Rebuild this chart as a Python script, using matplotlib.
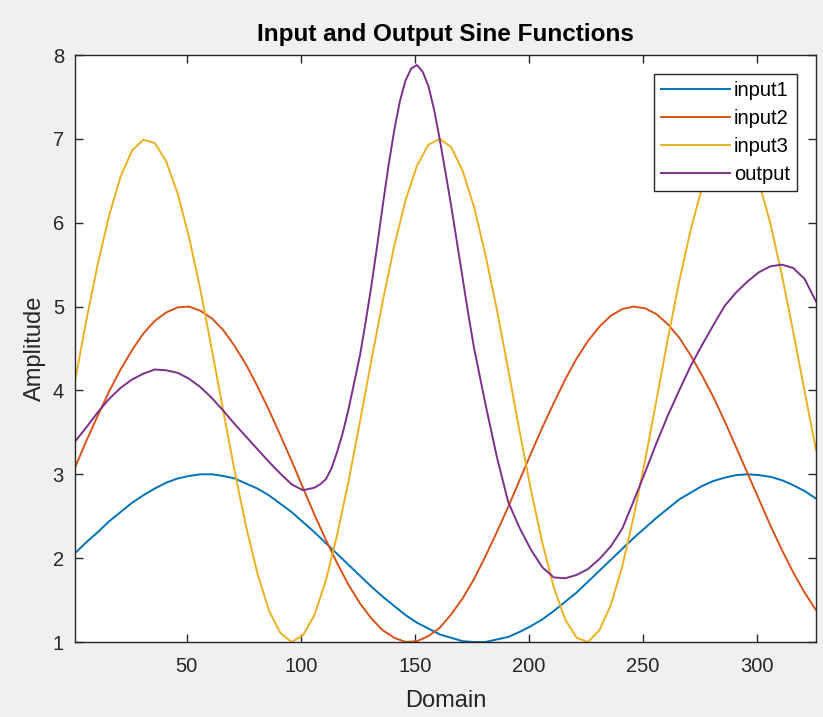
import matplotlib
matplotlib.use("Agg")
import matplotlib.pyplot as plt

# sample points, every 5 units of the domain
domain = list(range(1, 327, 5))

input1 = [2.06, 2.19, 2.31, 2.44, 2.55, 2.66, 2.75, 2.83, 2.90, 2.95,
          2.98, 3.00, 3.00, 2.98, 2.95, 2.89, 2.83, 2.75, 2.65, 2.55,
          2.43, 2.31, 2.18, 2.05, 1.92, 1.79, 1.66, 1.54, 1.43, 1.32,
          1.23, 1.16, 1.09, 1.05, 1.01, 1.00, 1.00, 1.03, 1.06, 1.12,
          1.19, 1.27, 1.37, 1.48, 1.59, 1.72, 1.85, 1.98, 2.11, 2.24,
          2.36, 2.48, 2.59, 2.70, 2.78, 2.86, 2.92, 2.96, 2.99, 3.00,
          2.99, 2.97, 2.93, 2.87, 2.80, 2.71]

input2 = [3.08, 3.40, 3.70, 3.99, 4.25, 4.48, 4.68, 4.83, 4.93, 4.99,
          5.00, 4.95, 4.86, 4.72, 4.53, 4.31, 4.05, 3.77, 3.47, 3.16,
          2.84, 2.52, 2.22, 1.94, 1.68, 1.46, 1.28, 1.14, 1.05, 1.00,
          1.01, 1.07, 1.17, 1.33, 1.52, 1.75, 2.02, 2.31, 2.61, 2.93,
          3.25, 3.56, 3.85, 4.13, 4.38, 4.59, 4.76, 4.89, 4.97, 5.00,
          4.98, 4.91, 4.79, 4.63, 4.42, 4.18, 3.92, 3.63, 3.32, 3.01,
          2.70, 2.39, 2.10, 1.83, 1.59, 1.38]

input3 = [4.11, 4.84, 5.51, 6.09, 6.55, 6.86, 6.99, 6.95, 6.73, 6.35,
          5.83, 5.20, 4.49, 3.76, 3.04, 2.38, 1.82, 1.38, 1.11, 1.00,
          1.08, 1.32, 1.73, 2.28, 2.92, 3.63, 4.36, 5.07, 5.72, 6.27,
          6.68, 6.93, 7.00, 6.90, 6.62, 6.19, 5.62, 4.97, 4.25, 3.51,
          2.81, 2.18, 1.65, 1.27, 1.05, 1.00, 1.14, 1.44, 1.90, 2.49,
          3.16, 3.88, 4.61, 5.30, 5.91, 6.42, 6.78, 6.97, 6.99, 6.82,
          6.48, 5.99, 5.38, 4.70, 3.99, 3.29]

# output is read a bit more finely where it turns sharply
out_domain = [1, 6, 11, 16, 21, 26, 31, 36, 41, 46,
              51, 56, 61, 66, 71, 76, 81, 86, 91, 96,
              101, 106, 108.5, 111, 113.5, 116, 118.5, 121, 126, 128.5,
              131, 133.5, 136, 138.5, 141, 143.5, 146, 148.5, 151, 153.5,
              156, 158.5, 161, 163.5, 166, 168.5, 171, 173.5, 176, 181,
              186, 191, 196, 201, 206, 211, 216, 221, 226, 231,
              236, 241, 246, 251, 256, 261, 266, 271, 276, 281,
              286, 291, 296, 301, 306, 311, 316, 321, 326]

output = [3.39, 3.56, 3.74, 3.90, 4.03, 4.13, 4.20, 4.25, 4.24, 4.21,
          4.14, 4.04, 3.91, 3.76, 3.60, 3.45, 3.30, 3.15, 3.01, 2.88,
          2.81, 2.84, 2.88, 2.94, 3.07, 3.27, 3.50, 3.78, 4.42, 4.82,
          5.25, 5.72, 6.21, 6.68, 7.10, 7.45, 7.70, 7.84, 7.88, 7.80,
          7.63, 7.35, 6.99, 6.60, 6.20, 5.77, 5.34, 4.91, 4.51, 3.84,
          3.21, 2.67, 2.36, 2.10, 1.89, 1.77, 1.76, 1.80, 1.87, 1.99,
          2.14, 2.35, 2.68, 3.02, 3.37, 3.70, 4.00, 4.29, 4.54, 4.78,
          5.01, 5.17, 5.30, 5.41, 5.48, 5.50, 5.46, 5.33, 5.06]

names = ["input1", "input2", "input3", "output"]
colors = ["#0072BD", "#D95319", "#EDB120", "#7E2F8E"]
xticks = [50, 100, 150, 200, 250, 300]
yticks = [1, 2, 3, 4, 5, 6, 7, 8]

plt.rcParams['font.family'] = ['Liberation Sans', 'DejaVu Sans']
axcol = "#262626"

fig = plt.figure(figsize=(8.23, 7.17), dpi=100, facecolor="#f0f0f0")
ax = fig.add_axes([75 / 823, 1 - 642 / 717, 741 / 823, 587 / 717])
ax.set_facecolor("white")

xs = [domain, domain, domain, out_domain]
for x, ys, name, c in zip(xs, [input1, input2, input3, output], names, colors):
    ax.plot(x, ys, color=c, lw=1.4, label=name)

ax.set_xlim(1, 326)
ax.set_ylim(1, 8)
ax.set_xticks(xticks)
ax.set_yticks(yticks)
ax.tick_params(direction="in", top=True, right=True, length=6, width=1,
               colors=axcol, labelsize=14.5)
ax.tick_params(axis="x", pad=11)
ax.tick_params(axis="y", pad=8)
for s in ax.spines.values():
    s.set_color(axcol)
    s.set_linewidth(1)

ax.set_xlabel("Domain", fontsize=17, color=axcol, labelpad=10)
ax.set_ylabel("Amplitude", fontsize=17, color=axcol, labelpad=5)
ax.set_title("Input and Output Sine Functions", fontsize=17.5,
             fontweight="bold", pad=10)

leg = ax.legend(loc="upper right", fontsize=14.5, handlelength=3.4,
                handletextpad=0.2, labelspacing=0.45, borderpad=0.35,
                borderaxespad=0.95, fancybox=False, framealpha=1)
leg.get_frame().set_edgecolor("#262626")
leg.get_frame().set_linewidth(1)

fig.savefig("out.png", dpi=100, facecolor=fig.get_facecolor())
